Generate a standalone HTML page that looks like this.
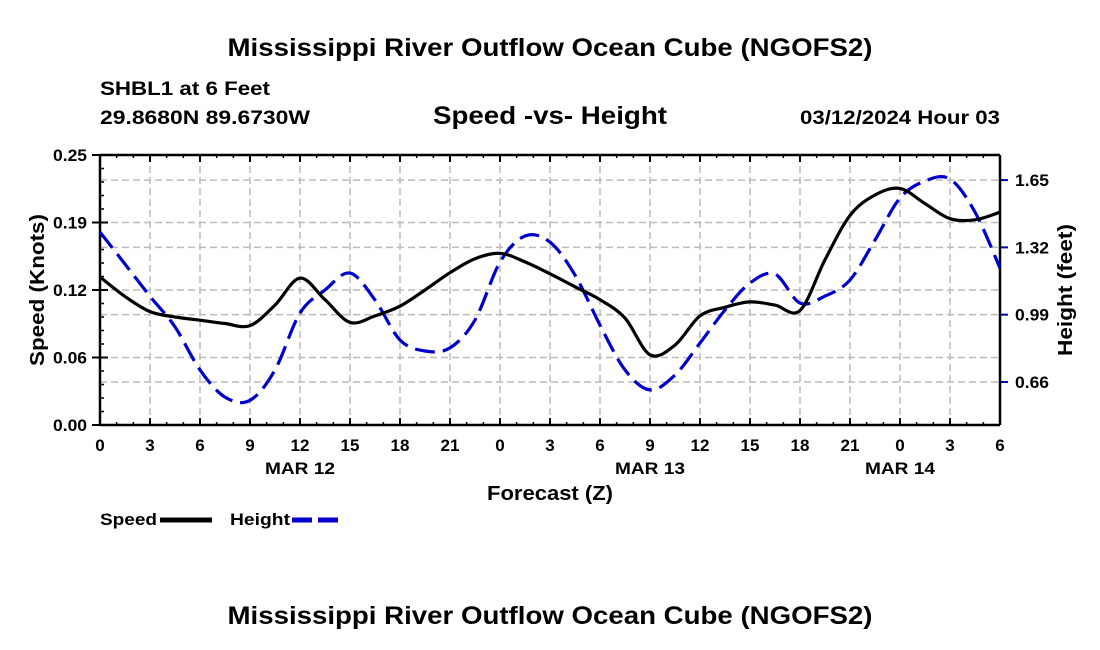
<!DOCTYPE html>
<html><head><meta charset="utf-8"><style>
html,body{margin:0;padding:0;background:#fff;}
svg{display:block;font-family:"Liberation Sans",Arial,sans-serif;font-weight:bold;}
</style></head><body>
<svg id="chart" width="1100" height="650" viewBox="0 0 1100 650" xmlns="http://www.w3.org/2000/svg">
<text x="550" y="56" text-anchor="middle" font-size="25" textLength="645" lengthAdjust="spacingAndGlyphs">Mississippi River Outflow Ocean Cube (NGOFS2)</text>
<text x="100" y="95" font-size="19" textLength="170" lengthAdjust="spacingAndGlyphs">SHBL1 at 6 Feet</text>
<text x="100" y="124" font-size="19" textLength="210" lengthAdjust="spacingAndGlyphs">29.8680N  89.6730W</text>
<text x="550" y="124" text-anchor="middle" font-size="25" textLength="234" lengthAdjust="spacingAndGlyphs">Speed -vs- Height</text>
<text x="800" y="124" font-size="19" textLength="200" lengthAdjust="spacingAndGlyphs">03/12/2024 Hour 03</text>
<g id="grid"></g>
<g id="axes"></g>
<g id="series"></g>
<text transform="translate(44,290) rotate(-90)" text-anchor="middle" font-size="20" textLength="152" lengthAdjust="spacingAndGlyphs">Speed (Knots)</text>
<text transform="translate(1072,290) rotate(-90)" text-anchor="middle" font-size="20" textLength="132" lengthAdjust="spacingAndGlyphs">Height (feet)</text>
<text x="550" y="500" text-anchor="middle" font-size="20" textLength="126" lengthAdjust="spacingAndGlyphs">Forecast (Z)</text>
<g>
<text x="100" y="525" font-size="17" textLength="57" lengthAdjust="spacingAndGlyphs">Speed</text>
<line x1="160" y1="520" x2="212" y2="520" stroke="#000" stroke-width="5"/>
</g>
<g>
<text x="230" y="525" font-size="17" textLength="60" lengthAdjust="spacingAndGlyphs">Height</text>
<line x1="292" y1="520" x2="342" y2="520" stroke="#0000cc" stroke-width="5" stroke-dasharray="20,6"/>
</g>
<text x="550" y="624" text-anchor="middle" font-size="25" textLength="645" lengthAdjust="spacingAndGlyphs">Mississippi River Outflow Ocean Cube (NGOFS2)</text>
</svg>
<script>
const hours = [0,1.5,3,4.5,6,7.5,9,10.5,12,13.5,15,16.5,18,19.5,21,22.5,24,25.5,27,28.5,30,31.5,33,34.5,36,37.5,39,40.5,42,43.5,45,46.5,48,49.5,51,52.5,54];
const speed = [0.137,0.119,0.105,0.100,0.097,0.094,0.092,0.111,0.136,0.116,0.095,0.101,0.110,0.125,0.141,0.154,0.159,0.151,0.140,0.128,0.116,0.099,0.065,0.074,0.101,0.109,0.114,0.111,0.106,0.153,0.194,0.213,0.219,0.205,0.191,0.190,0.197];
const height = [1.395,1.238,1.080,0.930,0.719,0.586,0.570,0.719,0.998,1.111,1.194,1.062,0.866,0.812,0.827,0.964,1.248,1.376,1.346,1.184,0.939,0.719,0.621,0.694,0.851,1.013,1.145,1.189,1.047,1.081,1.160,1.356,1.562,1.645,1.655,1.493,1.219];
const xTickHours = [0,3,6,9,12,15,18,21,24,27,30,33,36,39,42,45,48,51,54];
const xTickLabels = ["0","3","6","9","12","15","18","21","0","3","6","9","12","15","18","21","0","3","6"];
const dayLabels = ["MAR 12","MAR 13","MAR 14"];
const dayLabelHours = [12,33,48];
const leftTicks = [0,0.0625,0.125,0.1875,0.25];
const leftTickLabels = ["0.00","0.06","0.12","0.19","0.25"];
const rightTicks = [0.66,0.99,1.32,1.65];
const rightTickLabels = ["0.66","0.99","1.32","1.65"];

const X0=100,X1=1000,Y0=425,Y1=155;
const HMIN=0.449,HMAX=1.773;
const xs = h => X0 + (h/54)*(X1-X0);
const ys = v => Y0 - (v/0.25)*(Y0-Y1);
const yh = v => Y0 - ((v-HMIN)/(HMAX-HMIN))*(Y0-Y1);
const NS='http://www.w3.org/2000/svg';
function mk(tag,parent,attrs){const e=document.createElementNS(NS,tag);for(const k in attrs)e.setAttribute(k,attrs[k]);parent.appendChild(e);return e;}
const grid=document.getElementById('grid'),axes=document.getElementById('axes'),series=document.getElementById('series');

xTickHours.forEach((h,i)=>{
  if(i>0&&i<xTickHours.length-1){const g=mk('line',grid,{x1:xs(h),x2:xs(h),y1:Y1,y2:Y0,stroke:'#bbb','stroke-width':1.5,'stroke-dasharray':'7,4'});
  
  }
  const t=mk('line',axes,{x1:xs(h),x2:xs(h),y1:Y0,y2:Y0-7,stroke:'#000','stroke-width':2});
  
  
  const t2=mk('line',axes,{x1:xs(h),x2:xs(h),y1:Y1,y2:Y1+7,stroke:'#000','stroke-width':2});
  
  
  const l=mk('text',axes,{x:xs(h),y:451,'text-anchor':'middle','font-size':17});
  
  
  l.textContent=xTickLabels[i];
});
dayLabels.forEach((d,i)=>{
  const l=mk('text',axes,{x:xs(dayLabelHours[i]),y:474,'text-anchor':'middle','font-size':17,textLength:70,lengthAdjust:'spacingAndGlyphs'});
  
  
  l.textContent=d;
});
for(let h=0;h<=54;h+=1){
  const m=mk('line',axes,{x1:xs(h),x2:xs(h),y1:Y0,y2:Y0-3,stroke:'#000','stroke-width':1.5});
  
  
  const m2=mk('line',axes,{x1:xs(h),x2:xs(h),y1:Y1,y2:Y1+3,stroke:'#000','stroke-width':1.5});
  
  
}
for(let v=0;v<=0.25001;v+=0.0125){
  const m=mk('line',axes,{x1:X0,x2:X0+4,y1:ys(v),y2:ys(v),stroke:'#000','stroke-width':1.5});
  
  
}
leftTicks.forEach((v,i)=>{
  if(i>0&&i<leftTicks.length-1){const g=mk('line',grid,{x1:X0,x2:X1,y1:ys(v),y2:ys(v),stroke:'#bbb','stroke-width':1.5,'stroke-dasharray':'7,4'});
  
  }
  const t=mk('line',axes,{x1:X0-8,x2:X0+8,y1:ys(v),y2:ys(v),stroke:'#000','stroke-width':2});
  
  
  const l=mk('text',axes,{x:X0-13,y:ys(v)+6,'text-anchor':'end','font-size':17,textLength:34,lengthAdjust:'spacingAndGlyphs'});
  
  
  l.textContent=leftTickLabels[i];
});
rightTicks.forEach((v,i)=>{
  const g=mk('line',grid,{x1:X0,x2:X1,y1:yh(v),y2:yh(v),stroke:'#bbb','stroke-width':1.5,'stroke-dasharray':'7,4'});
  
  
  const t=mk('line',axes,{x1:X1,x2:X1+8,y1:yh(v),y2:yh(v),stroke:'#0000aa','stroke-width':2});
  
  
  const l=mk('text',axes,{x:X1+15,y:yh(v)+6,'text-anchor':'start','font-size':17,textLength:34,lengthAdjust:'spacingAndGlyphs'});
  
  
  l.textContent=rightTickLabels[i];
});
const frame=[[X0,Y0,X1,Y0],[X0,Y1,X1,Y1],[X0,Y0,X0,Y1],[X1,Y0,X1,Y1]];
frame.forEach(f=>{const a=mk('line',axes,{x1:f[0],y1:f[1],x2:f[2],y2:f[3],stroke:'#000','stroke-width':2.5});

});

function smooth(pts){
  let d='M'+pts[0][0].toFixed(1)+','+pts[0][1].toFixed(1);
  for(let i=0;i<pts.length-1;i++){
    const p0=pts[Math.max(i-1,0)],p1=pts[i],p2=pts[i+1],p3=pts[Math.min(i+2,pts.length-1)];
    const c1=[p1[0]+(p2[0]-p0[0])/6,p1[1]+(p2[1]-p0[1])/6];
    const c2=[p2[0]-(p3[0]-p1[0])/6,p2[1]-(p3[1]-p1[1])/6];
    d+=' C'+c1[0].toFixed(1)+','+c1[1].toFixed(1)+' '+c2[0].toFixed(1)+','+c2[1].toFixed(1)+' '+p2[0].toFixed(1)+','+p2[1].toFixed(1);
  }
  return d;
}
const hp=mk('path',series,{d:smooth(hours.map((h,i)=>[xs(h),yh(height[i])])),fill:'none',stroke:'#0000cc','stroke-width':3.2,'stroke-dasharray':'20,8'});


const sp=mk('path',series,{d:smooth(hours.map((h,i)=>[xs(h),ys(speed[i])])),fill:'none',stroke:'#000','stroke-width':3.2});


</script>
</body></html>
